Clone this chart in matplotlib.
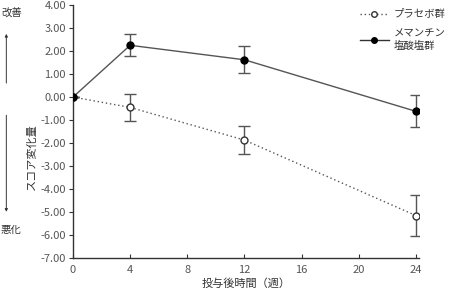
import matplotlib
matplotlib.use("Agg")
import matplotlib.pyplot as plt
from matplotlib.lines import Line2D
from matplotlib.patches import FancyArrowPatch

plt.rcParams['font.family'] = ['Noto Sans CJK JP', 'DejaVu Sans']

weeks = [0, 4, 12, 24]
memantine = [0.0, 2.25, 1.62, -0.62]
memantine_err = [0.0, 0.48, 0.58, 0.70]
placebo = [0.0, -0.45, -1.87, -5.15]
placebo_err = [0.0, 0.58, 0.62, 0.90]
xticks = [0, 4, 8, 12, 16, 20, 24]
yticks = [4, 3, 2, 1, 0, -1, -2, -3, -4, -5, -6, -7]
label_placebo = "プラセボ群"
label_mem = "メマンチン\n塩酸塩群"

fig = plt.figure(figsize=(4.52, 2.96), dpi=100)
ax = fig.add_axes([0.1615, 0.128, 0.765, 0.855])

ax.errorbar(weeks, placebo, yerr=placebo_err, color='#555555', ls=(0, (1, 2)), lw=1.0,
            marker='o', mfc='white', mec='#333333', ms=5, mew=1.0,
            ecolor='#555555', elinewidth=1.0, capsize=4, capthick=1.0, zorder=2)
ax.errorbar(weeks, memantine, yerr=memantine_err, color='#555555', ls='-', lw=1.0,
            marker='o', mfc='black', mec='black', ms=5,
            ecolor='#555555', elinewidth=1.0, capsize=4, capthick=1.0, zorder=3)

ax.set_xlim(0, 24.2)
ax.set_ylim(-7, 4)
ax.set_xticks(xticks)
ax.set_yticks(yticks)
ax.set_yticklabels([f"{v:.2f}" for v in yticks])
for s in ['top', 'right']:
    ax.spines[s].set_visible(False)
for s in ['left', 'bottom']:
    ax.spines[s].set_color('#333333')
    ax.spines[s].set_linewidth(1.0)
ax.tick_params(axis='x', direction='in', length=3, labelsize=8, colors='#333333', labelcolor='#555555', pad=5)
ax.tick_params(axis='y', direction='out', length=3, labelsize=8, colors='#333333', labelcolor='#555555', pad=2)

ax.set_xlabel("投与後時間（週）", fontsize=8, color='#333333', labelpad=2)
fig.text(0.069, 0.47, "スコア変化量", rotation=90, fontsize=8, color='#333333', ha='center', va='center')

# left side annotations
fig.text(0.002, 0.955, "改善", fontsize=7.5, color='#333333', ha='left', va='center')
fig.text(0.002, 0.222, "悪化", fontsize=7.5, color='#333333', ha='left', va='center')
fig.patches.append(FancyArrowPatch((0.014, 0.71), (0.014, 0.895), transform=fig.transFigure,
                   arrowstyle='-|>', mutation_scale=4, color='#333333', lw=0.7))
fig.patches.append(FancyArrowPatch((0.014, 0.62), (0.014, 0.275), transform=fig.transFigure,
                   arrowstyle='-|>', mutation_scale=4, color='#333333', lw=0.7))

handles = [Line2D([], [], color='#555555', ls=(0, (1, 2)), lw=1.0, marker='o', mfc='white', mec='#333333', ms=4),
           Line2D([], [], color='#333333', ls='-', lw=1.0, marker='o', mfc='black', mec='black', ms=4)]
fig.legend(handles, [label_placebo, label_mem], loc='upper left', bbox_to_anchor=(0.775, 1.0),
           frameon=False, fontsize=7.5, handlelength=2.8, handletextpad=0.5, labelspacing=0.9,
           labelcolor='#333333')

fig.savefig("out.png", dpi=100)
